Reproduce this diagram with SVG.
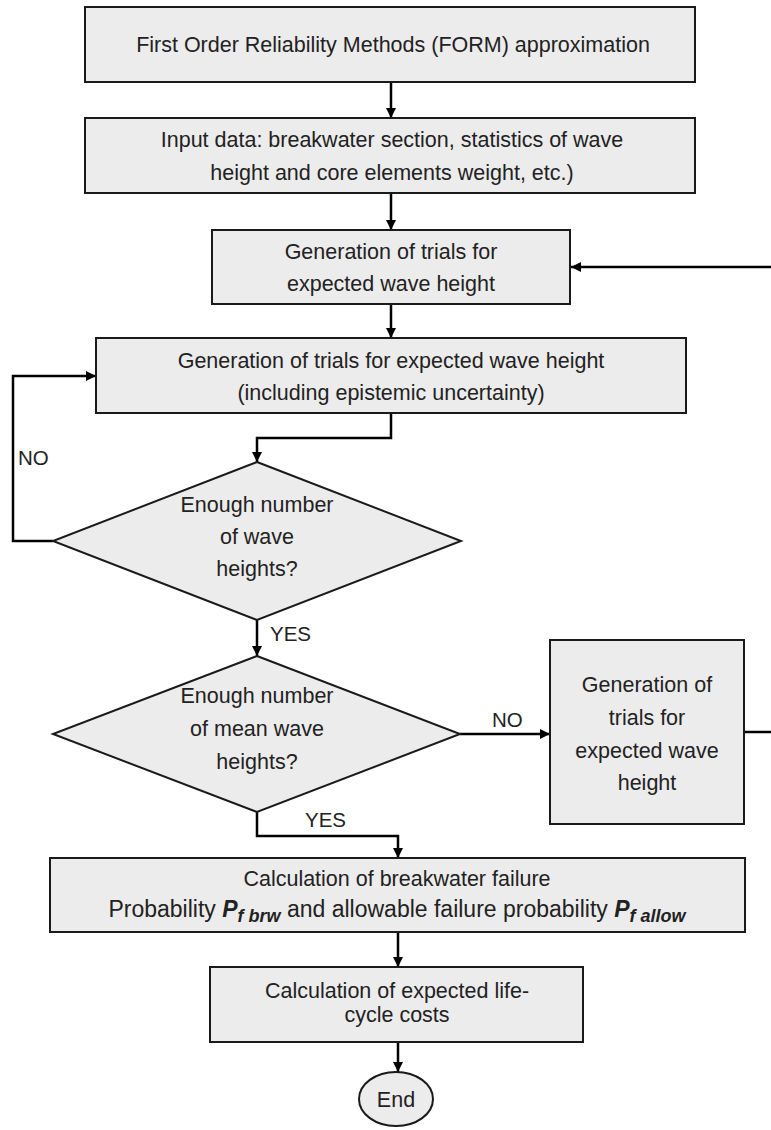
<svg xmlns="http://www.w3.org/2000/svg" width="771" height="1130" viewBox="0 0 771 1130">
<defs>
<style>
.box{fill:#ececec;stroke:#1a1a1a;stroke-width:2}
.t{font-family:"Liberation Sans Narrow","Liberation Sans",Arial,sans-serif;font-size:21.5px;fill:#222;text-anchor:middle}
.lbl{font-family:"Liberation Sans Narrow","Liberation Sans",Arial,sans-serif;font-size:20.5px;fill:#222}
.c{fill:none;stroke:#000;stroke-width:2.5}
.bi{font-weight:bold;font-style:italic}
.pf{font-size:23px}
.sub{font-size:18px}
</style>
<marker id="ah" viewBox="0 0 10 10" refX="10" refY="5" markerWidth="10" markerHeight="10" markerUnits="userSpaceOnUse" orient="auto">
<path d="M0,0 L10,5 L0,10 z" fill="#000"/>
</marker>
</defs>
<rect width="771" height="1130" fill="#fff"/>
<g id="connectors">
<path class="c" d="M391,82 V118" marker-end="url(#ah)"/>
<path class="c" d="M391,193 V230" marker-end="url(#ah)"/>
<path class="c" d="M771,267 H571" marker-end="url(#ah)"/>
<path class="c" d="M391,304 V338" marker-end="url(#ah)"/>
<path class="c" d="M391,413 V438 H257 V462" marker-end="url(#ah)"/>
<path class="c" d="M53,541 H13 V376 H96" marker-end="url(#ah)"/>
<path class="c" d="M257,620 V656" marker-end="url(#ah)"/>
<path class="c" d="M460,734 H550" marker-end="url(#ah)"/>
<path class="c" d="M744,732 H771"/>
<path class="c" d="M257,812 V836 H398 V858" marker-end="url(#ah)"/>
<path class="c" d="M398,932 V967" marker-end="url(#ah)"/>
<path class="c" d="M398,1042 V1072" marker-end="url(#ah)"/>
<text class="lbl" x="18" y="465">NO</text>
<text class="lbl" x="270" y="641">YES</text>
<text class="lbl" x="492" y="727">NO</text>
<text class="lbl" x="305" y="827">YES</text>
</g>
<g id="form">
<rect class="box" x="85" y="7" width="610" height="75"/>
<text class="t" x="393" y="52">First Order Reliability Methods (FORM) approximation</text>
</g>
<g id="input">
<rect class="box" x="85" y="118" width="610" height="75"/>
<text class="t" x="392" y="147">Input data: breakwater section, statistics of wave</text>
<text class="t" x="392" y="180">height and core elements weight, etc.)</text>
</g>
<g id="gen1">
<rect class="box" x="212" y="230" width="358" height="74"/>
<text class="t" x="391" y="259">Generation of trials for</text>
<text class="t" x="391" y="291">expected wave height</text>
</g>
<g id="gen2">
<rect class="box" x="96" y="338" width="590" height="75"/>
<text class="t" x="391" y="368">Generation of trials for expected wave height</text>
<text class="t" x="391" y="400">(including epistemic uncertainty)</text>
</g>
<g id="dec1">
<polygon class="box" points="257,462 461,541 257,620 53,541"/>
<text class="t" x="257" y="512">Enough number</text>
<text class="t" x="257" y="544">of wave</text>
<text class="t" x="257" y="576">heights?</text>
</g>
<g id="dec2">
<polygon class="box" points="257,656 460,734 257,812 53,734"/>
<text class="t" x="257" y="703">Enough number</text>
<text class="t" x="257" y="736">of mean wave</text>
<text class="t" x="257" y="769">heights?</text>
</g>
<g id="gen3">
<rect class="box" x="550" y="640" width="194" height="184"/>
<text class="t" x="647" y="692">Generation of</text>
<text class="t" x="647" y="725">trials for</text>
<text class="t" x="647" y="758">expected wave</text>
<text class="t" x="647" y="790">height</text>
</g>
<g id="failure">
<rect class="box" x="50" y="858" width="695" height="74"/>
<text class="t" x="397" y="886">Calculation of breakwater failure</text>
<text class="t pf" x="397" y="917">Probability <tspan class="bi">P</tspan><tspan class="bi sub" dy="5">f brw</tspan><tspan dy="-5"> and allowable failure probability </tspan><tspan class="bi">P</tspan><tspan class="bi sub" dy="5">f allow</tspan></text>
</g>
<g id="lcc">
<rect class="box" x="210" y="967" width="373" height="75"/>
<text class="t" x="397" y="998">Calculation of expected life-</text>
<text class="t" x="397" y="1022">cycle costs</text>
</g>
<g id="end">
<ellipse class="box" cx="396" cy="1099" rx="37" ry="27"/>
<text class="t" x="396" y="1107">End</text>
</g>
</svg>
